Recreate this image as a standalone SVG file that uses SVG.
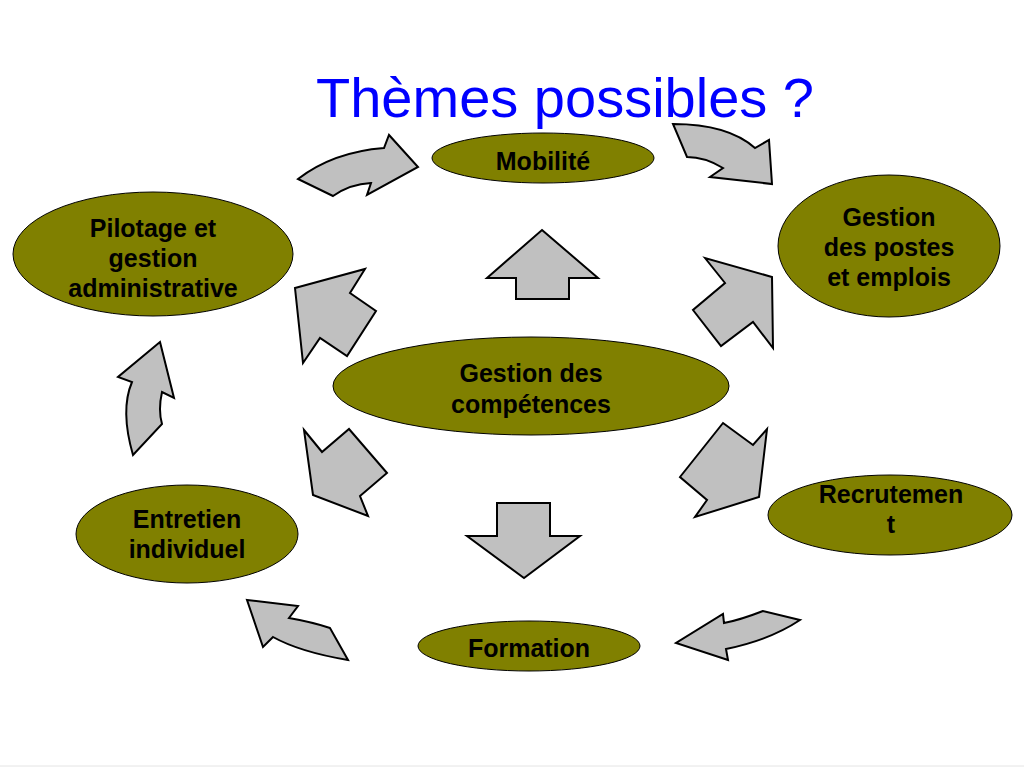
<svg xmlns="http://www.w3.org/2000/svg" width="1024" height="768" viewBox="0 0 1024 768">
<style>
.node ellipse{fill:#808000;stroke:#000;stroke-width:1}
.node text{font-family:"Liberation Sans",Arial,sans-serif;font-weight:bold;font-size:25px;fill:#000;text-anchor:middle}
.arr{fill:#C0C0C0;stroke:#000;stroke-width:2;stroke-linejoin:miter}
.title{font-family:"Liberation Sans",Arial,sans-serif;font-size:56px;fill:#0000FF}
</style>
<rect x="0" y="0" width="1024" height="768" fill="#fff"/>
<line x1="0" y1="766" x2="1024" y2="766" stroke="#e4e4e4" stroke-width="1"/>
<text class="title" x="316" y="117">Thèmes possibles ?</text>

<g id="connectors">
  <path class="arr" d="M298,179 Q333,152 384,148 L389,135 L418,167 L367,195 L371,183 Q350,184 333,196 Z"/>
  <path class="arr" d="M673,124 Q728,124 755,148 L769,140 L772,184 L710,177 L723,168 Q705,157 687,157 Z"/>
  <path class="arr" d="M160,342 L174,398 L162,392 Q158,410 162,424 L133,455 Q120,410 132,382 L118,377 Z"/>
  <path class="arr" d="M247,600 L298,606 L289,618 Q312,622 330,628 L348,660 Q300,652 273,637 L263,647 Z"/>
  <path class="arr" d="M800,620 L763,611 Q740,620 724,623 L723,614 L676,643 L728,660 L726,649 Q770,640 800,620 Z"/>
  <polygon class="arr" points="542,230 598,278 569,278 569,299 516,299 516,278 487,278"/>
  <polygon class="arr" points="497,503 550,503 550,536 580,536 524,578 467,536 497,536"/>
  <polygon class="arr" points="705,258 725,283 693,310 721,346 753,322 773,348 772,277"/>
  <polygon class="arr" points="295,288 365,269 350,293 376,311 347,356 320,338 303,363"/>
  <polygon class="arr" points="723,423 753,445 767,429 759,497 695,517 707,500 680,477"/>
  <polygon class="arr" points="304,430 322,452 349,429 387,473 360,496 368,516 313,495"/>
</g>

<g id="node-mobilite" class="node">
  <ellipse cx="543" cy="158" rx="111" ry="25"/>
  <text x="543" y="170">Mobilité</text>
</g>
<g id="node-postes" class="node">
  <ellipse cx="889" cy="246" rx="111" ry="71"/>
  <text x="889" y="226">Gestion</text>
  <text x="889" y="256">des postes</text>
  <text x="889" y="286">et emplois</text>
</g>
<g id="node-pilotage" class="node">
  <ellipse cx="153" cy="254" rx="140" ry="62"/>
  <text x="153" y="237">Pilotage et</text>
  <text x="153" y="267">gestion</text>
  <text x="153" y="297">administrative</text>
</g>
<g id="node-competences" class="node">
  <ellipse cx="531" cy="386" rx="198" ry="49"/>
  <text x="531" y="382">Gestion des</text>
  <text x="531" y="413">compétences</text>
</g>
<g id="node-recrutement" class="node">
  <ellipse cx="890" cy="515" rx="122" ry="40"/>
  <text x="891" y="503">Recrutemen</text>
  <text x="891" y="533">t</text>
</g>
<g id="node-entretien" class="node">
  <ellipse cx="187" cy="534" rx="111" ry="49"/>
  <text x="187" y="528">Entretien</text>
  <text x="187" y="558">individuel</text>
</g>
<g id="node-formation" class="node">
  <ellipse cx="529" cy="646" rx="111" ry="25"/>
  <text x="529" y="657">Formation</text>
</g>
</svg>
